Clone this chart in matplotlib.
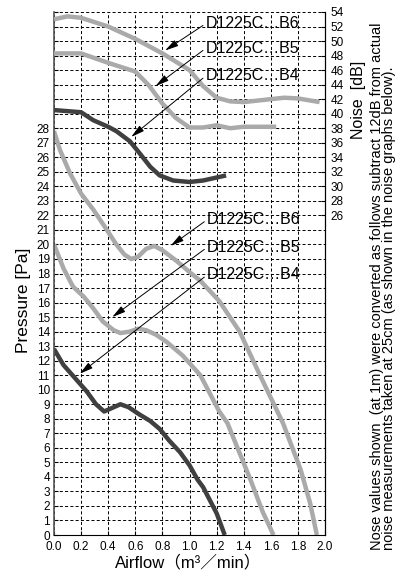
import numpy as np
import matplotlib
matplotlib.use("Agg")
import matplotlib.pyplot as plt

plt.rcParams['font.family'] = ['Liberation Sans', 'Noto Sans CJK JP', 'DejaVu Sans']
plt.rcParams['lines.scale_dashes'] = False

# 風量 - 静圧 (Pa)
b6_q = [0.0, 0.044, 0.118, 0.2, 0.29, 0.39, 0.46, 0.52, 0.57, 0.62, 0.68, 0.74, 0.80, 0.90, 1.0, 1.08, 1.22, 1.37, 1.52, 1.69, 1.82, 1.89, 1.94]
b6_p = [27.8, 26.5, 24.9, 23.5, 22.4, 21.0, 20.0, 19.3, 19.0, 19.15, 19.7, 19.9, 19.6, 18.9, 18.1, 17.5, 16.1, 14.0, 11.0, 7.7, 4.5, 2.2, 0.0]

b5_q = [0.0, 0.07, 0.14, 0.22, 0.29, 0.36, 0.44, 0.49, 0.56, 0.62, 0.68, 0.75, 0.83, 0.95, 1.08, 1.22, 1.28, 1.45, 1.54, 1.62]
b5_p = [20.0, 18.35, 17.1, 16.4, 15.6, 14.7, 14.1, 13.9, 14.0, 14.2, 14.1, 13.8, 13.3, 12.35, 11.0, 8.5, 7.7, 3.8, 1.6, 0.0]

b4_q = [0.0, 0.07, 0.155, 0.24, 0.31, 0.37, 0.43, 0.49, 0.55, 0.63, 0.71, 0.78, 0.85, 0.93, 1.0, 1.06, 1.1, 1.2, 1.26]
b4_p = [12.8, 11.7, 10.8, 9.9, 9.0, 8.5, 8.75, 9.0, 8.8, 8.3, 7.85, 7.3, 6.5, 5.7, 4.8, 3.8, 3.3, 1.5, 0.0]

# 風量 - 騒音 (dB)
b6n_q = [0.0, 0.1, 0.2, 0.4, 0.6, 0.8, 1.0, 1.1, 1.2, 1.3, 1.4, 1.6, 1.7, 1.8, 1.96]
b6n_db = [53.0, 53.4, 53.2, 52.0, 50.3, 48.3, 46.0, 43.8, 42.2, 41.7, 41.6, 42.0, 42.2, 42.1, 41.6]

b5n_q = [0.0, 0.2, 0.4, 0.6, 0.7, 0.8, 0.9, 1.0, 1.1, 1.2, 1.3, 1.4, 1.5, 1.64]
b5n_db = [48.3, 48.3, 47.0, 45.8, 43.9, 41.4, 39.4, 38.1, 38.1, 38.4, 38.0, 38.2, 38.2, 38.2]

b4n_q = [0.0, 0.2, 0.29, 0.4, 0.46, 0.56, 0.63, 0.71, 0.78, 0.88, 1.0, 1.1, 1.27]
b4n_db = [40.5, 40.2, 39.1, 38.2, 37.6, 36.2, 34.6, 32.7, 31.5, 30.8, 30.6, 30.8, 31.5]

labels = ["D1225C\u2026B6", "D1225C\u2026B5", "D1225C\u2026B4"]
light = "#aaaaaa"
dark = "#404040"

fig = plt.figure(figsize=(3.96, 5.77), dpi=100)
ax = fig.add_axes([54/396, 1 - 535/577, (325-54)/396, (535-12)/577])
ax2 = ax.twinx()

ax.set_xlim(0, 2.0)
ax.set_ylim(0, 36)
ax.set_xticks(np.arange(0, 2.01, 0.2))
ax.set_xticklabels(["%.1f" % v for v in np.arange(0, 2.01, 0.2)], fontsize=8.5)
ax.set_yticks(np.arange(0, 37, 1))
ax.set_yticklabels([str(v) if v <= 28 else "" for v in range(37)], fontsize=8.5)
ax.tick_params(axis="x", direction="in", length=3, width=0.8, pad=4)
ax.tick_params(axis="y", direction="in", length=3, width=0.8, pad=3)
ax.spines["top"].set_visible(False)
ax.spines["left"].set_color("#555555")
ax.spines["left"].set_linewidth(1.2)
ax.set_axisbelow(True)
ax.grid(True, color="black", linestyle=(0, (2.2, 1.6)), linewidth=0.7)

ax2.set_ylim(-18, 54)
ax2.set_yticks(np.arange(26, 55, 2))
ax2.tick_params(axis="y", direction="in", length=3, width=0.8, pad=4, labelsize=8.5)
for s in ["top", "left", "bottom"]:
    ax2.spines[s].set_visible(False)

kw = dict(linewidth=3.2, solid_capstyle="butt", solid_joinstyle="round")
ax.plot(b6_q, b6_p, color=light, **kw)
ax.plot(b5_q, b5_p, color=light, **kw)
ax.plot(b4_q, b4_p, color=dark, **kw)
ax2.plot(b6n_q, b6n_db, color=light, **kw)
ax2.plot(b5n_q, b5n_db, color=light, **kw)
ax2.plot(b4n_q, b4n_db, color=dark, **kw)

arrow = dict(arrowstyle="-|>,head_length=0.7,head_width=0.18", color="black", lw=0.7,
             shrinkA=0, shrinkB=0, relpos=(0, 0.5))

# 騒音側のラベル
noise_tips = [(0.82, 48.7), (0.75, 43.8), (0.57, 36.8)]
noise_txt = [52.4, 49.0, 45.2]
for lab, tip, ty in zip(labels, noise_tips, noise_txt):
    ax2.annotate(lab, xy=tip, xytext=(1.12, ty), fontsize=11.5, ha="left", va="center",
                 arrowprops=arrow)

# 静圧側のラベル
press_tips = [(0.86, 19.9), (0.43, 15.0), (0.19, 11.1)]
press_txt = [21.7, 19.8, 17.9]
for lab, tip, ty in zip(labels, press_tips, press_txt):
    ax.annotate(lab, xy=tip, xytext=(1.13, ty), fontsize=11.5,
                ha="left", va="center", arrowprops=arrow)

fig.text(24/396, 1 - 300/577, "Pressure [Pa]", rotation=90, ha="center", va="center", fontsize=12.5)
fig.text(188/396, 1 - 562/577, "Airflow\uff08m\u00b3\uff0fmin\uff09", ha="center", va="center", fontsize=12)
fig.text(359/396, 1 - 100/577, "Noise  [dB]", rotation=90, ha="center", va="center", fontsize=11.5)
fig.text(383/396, 1 - 550/577,
         "Nose values shown  (at 1m) were converted as follows subtract 12dB from actual\n"
         "noise measurements taken at 25cm (as shown in the noise graphs below).",
         rotation=90, ha="center", va="bottom", ma="left", fontsize=10.5, linespacing=0.8)

fig.savefig("out.png", dpi=100)
